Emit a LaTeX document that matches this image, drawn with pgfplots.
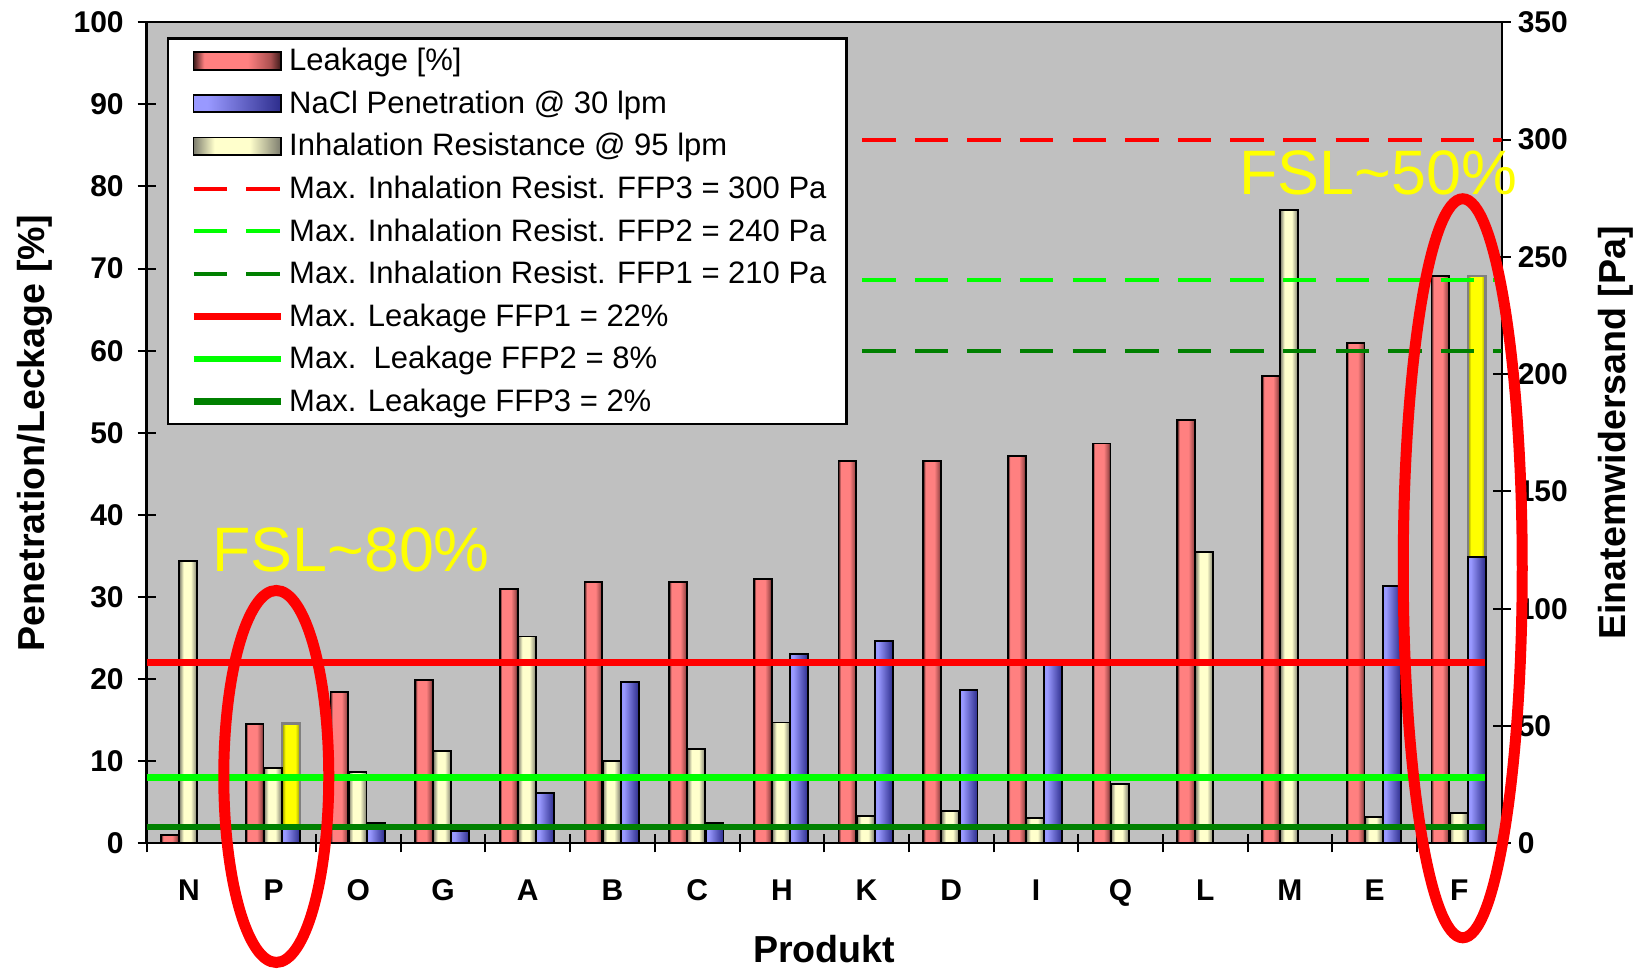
\documentclass[border=0pt]{standalone}
\usepackage{pgfplots}
\pgfplotsset{compat=1.18}
\usepackage{fontspec}
\setmainfont{Liberation Sans}

\definecolor{bggray}{RGB}{192,192,192}
\definecolor{dkgreenline}{RGB}{0,128,0}
\definecolor{ltgreenline}{RGB}{0,255,0}
\definecolor{redline}{RGB}{255,0,0}
\definecolor{salmonc}{RGB}{255,128,128}
\definecolor{salmondk}{RGB}{60,25,25}
\definecolor{salmonmid}{RGB}{170,80,80}
\definecolor{periwc}{RGB}{153,153,255}
\definecolor{bluedk}{RGB}{45,45,140}
\definecolor{creamc}{RGB}{255,255,204}
\definecolor{creamdk}{RGB}{125,125,110}
\definecolor{yelc}{RGB}{255,255,0}
\definecolor{yeldk}{RGB}{150,150,0}
\definecolor{yelborder}{RGB}{128,128,128}

\pgfdeclarehorizontalshading{redbarsh}{100bp}{color(0bp)=(salmondk); color(25bp)=(salmondk); color(31bp)=(salmonc); color(56bp)=(salmonc); color(69bp)=(salmonmid); color(75bp)=(salmondk); color(100bp)=(salmondk)}
\pgfdeclarehorizontalshading{bluebarsh}{100bp}{color(0bp)=(periwc); color(25bp)=(periwc); color(33bp)=(periwc); color(75bp)=(bluedk); color(100bp)=(bluedk)}
\pgfdeclarehorizontalshading{creambarsh}{100bp}{color(0bp)=(creamdk); color(25bp)=(creamdk); color(37bp)=(creamc); color(57bp)=(creamc); color(75bp)=(creamdk); color(100bp)=(creamdk)}
\pgfdeclarehorizontalshading{yelbarsh}{100bp}{color(0bp)=(yeldk); color(25bp)=(yeldk); color(34bp)=(yelc); color(62bp)=(yelc); color(75bp)=(yeldk); color(100bp)=(yeldk)}

\pgfplotsset{
  leakbar/.style={draw=black, line width=0.9pt, shade, shading=redbarsh},
  naclbar/.style={draw=black, line width=0.9pt, shade, shading=bluebarsh},
  inhbar/.style={draw=black, line width=0.9pt, shade, shading=creambarsh},
  yelbar/.style={draw=yelborder, line width=1.3pt, shade, shading=yelbarsh},
  dashline/.style={line width=2pt, dash pattern=on 16.7pt off 9.6pt},
  solidline/.style={line width=3.3pt},
  barlegend/.style={legend image code/.code={\path (0pt,0pt); \draw[##1] (3.5pt,-4.35pt) rectangle (47.2pt,4.35pt);}},
  linelegend/.style={legend image code/.code={\path (0pt,0pt); \draw[##1] (3.5pt,0pt) -- (47.2pt,0pt);}},
  commonaxis/.style={
    at={(0,0)}, anchor=south west,
    scale only axis, width=677.5pt, height=410.5pt,
    xmin=-0.5, xmax=15.5,
    tick align=center,
    major tick length=9pt, minor tick length=9pt,
    tick style={line width=1pt, black},
    axis line style={line width=1.2pt},
    tick label style={font=\bfseries\fontsize{15}{15}\selectfont},
    label style={font=\bfseries\fontsize{18.8}{18.8}\selectfont},
  },
}

% one bar per \addplot so that each bar gets its own shading
\newcommand\LeakBar[2]{\addplot[ybar, bar width=0.21, bar shift=-0.225, leakbar] coordinates {(#1,#2)};}
\newcommand\NaclBar[2]{\addplot[ybar, bar width=0.21, bar shift=0.205, naclbar] coordinates {(#1,#2)};}
\newcommand\YelBar[2]{\addplot[ybar, bar width=0.21, bar shift=0.205, yelbar] coordinates {(#1,#2)};}
\newcommand\InhBar[2]{\addplot[ybar, bar width=0.21, bar shift=-0.01, inhbar] coordinates {(#1,#2)};}

\begin{document}
\begin{tikzpicture}
% ---------- left axis: leakage and NaCl penetration ----------
\begin{axis}[commonaxis,
  ymin=0, ymax=100,
  axis background/.style={fill=bggray},
  ytick={0,10,...,100},
  yticklabels={0,10,20,30,40,50,60,70,80,90,100},
  ytick pos=left,
  yticklabel style={xshift=-3.5pt},
  xtick={0,...,15},
  xticklabels={N,P,O,G,A,B,C,H,K,D,I,Q,L,M,E,F},
  xtick pos=left,
  xticklabel style={yshift=-10pt},
  major x tick style={draw=none},
  minor xtick={-0.5,0.5,...,15.5},
  xlabel={Produkt},
  ylabel={Penetration/Leckage [\%]},
  xlabel style={at={(axis description cs:0.5,-0.1458)}, anchor=base},
  ylabel style={at={(axis description cs:-0.0754,0.5)}, anchor=base},
]
% Leakage [%]
\LeakBar{0}{1.0}  \LeakBar{1}{14.5} \LeakBar{2}{18.4} \LeakBar{3}{19.9}
\LeakBar{4}{31.0} \LeakBar{5}{31.8} \LeakBar{6}{31.8} \LeakBar{7}{32.2}
\LeakBar{8}{46.6} \LeakBar{9}{46.6} \LeakBar{10}{47.2} \LeakBar{11}{48.7}
\LeakBar{12}{51.6} \LeakBar{13}{56.9} \LeakBar{14}{60.9} \LeakBar{15}{69.1}
% highlighted FSL ranges
\YelBar{1}{14.6} \YelBar{15}{69.1}
% NaCl penetration
\NaclBar{1}{1.8} \NaclBar{2}{2.5} \NaclBar{3}{1.5} \NaclBar{4}{6.1}
\NaclBar{5}{19.6} \NaclBar{6}{2.5} \NaclBar{7}{23.1} \NaclBar{8}{24.6}
\NaclBar{9}{18.7} \NaclBar{10}{22.3} \NaclBar{14}{31.3} \NaclBar{15}{34.9}
\end{axis}
% ---------- right axis: inhalation resistance ----------
\begin{axis}[commonaxis,
  ymin=0, ymax=350,
  axis y line*=right, axis x line=none,
  ytick={0,50,...,350},
  yticklabels={0,50,100,150,200,250,300,350},
  ylabel={Einatemwidersand [Pa]},
  ylabel style={at={(axis description cs:1.091,0.5)}, anchor=base},
]
\InhBar{0}{120.4} \InhBar{1}{32.2} \InhBar{2}{30.5} \InhBar{3}{39.2}
\InhBar{4}{88.2} \InhBar{5}{35.0} \InhBar{6}{40.3} \InhBar{7}{51.5}
\InhBar{8}{11.5} \InhBar{9}{13.7} \InhBar{10}{10.9} \InhBar{11}{25.2}
\InhBar{12}{124.3} \InhBar{13}{270.1} \InhBar{14}{11.2} \InhBar{15}{12.9}
\addplot[redline, dashline] coordinates {(2.98,300) (15.5,300)};
\addplot[ltgreenline, dashline] coordinates {(2.98,240) (15.5,240)};
\addplot[dkgreenline, dashline] coordinates {(2.98,210) (15.5,210)};
\end{axis}
% ---------- overlay: leakage limits, legend, annotations ----------
\begin{axis}[commonaxis,
  ymin=0, ymax=100, hide axis, clip=false,
  legend cell align=left,
  legend style={at={(axis description cs:0.015,0.9817)}, anchor=north west,
    draw=black, line width=1.2pt, fill=white,
    font=\fontsize{15.5}{15.5}\selectfont,
    inner xsep=7.5pt, inner ysep=2.9pt, row sep=4.55pt,
    nodes={inner xsep=2.5pt, inner ysep=2pt}},
]
\addlegendimage{leakbar, barlegend}
\addlegendentry{Leakage [\%]}
\addlegendimage{naclbar, barlegend}
\addlegendentry{NaCl Penetration @ 30 lpm}
\addlegendimage{inhbar, barlegend}
\addlegendentry{Inhalation Resistance @ 95 lpm}
\addlegendimage{redline, dashline, linelegend}
\addlegendentry{Max. Inhalation Resist. FFP3 = 300 Pa}
\addlegendimage{ltgreenline, dashline, linelegend}
\addlegendentry{Max. Inhalation Resist. FFP2 = 240 Pa}
\addlegendimage{dkgreenline, dashline, linelegend}
\addlegendentry{Max. Inhalation Resist. FFP1 = 210 Pa}
\addplot[redline, solidline, linelegend] coordinates {(-0.5,22) (15.3,22)};
\addlegendentry{Max. Leakage FFP1 = 22\%}
\addplot[ltgreenline, solidline, linelegend] coordinates {(-0.5,8) (15.3,8)};
\addlegendentry{Max.\ \ Leakage FFP2 = 8\%}
\addplot[dkgreenline, solidline, linelegend] coordinates {(-0.5,2) (15.3,2)};
\addlegendentry{Max. Leakage FFP3 = 2\%}
\draw[redline, line width=5.5pt] (axis cs:1.03,8.14) ellipse [x radius=26.25pt, y radius=93pt];
\draw[redline, line width=5.5pt] (axis cs:15.04,33.5) ellipse [x radius=29.75pt, y radius=184.75pt];
\node[anchor=base west, inner sep=0pt, text=yelc, font=\fontsize{31.4}{31.4}\selectfont] at (axis cs:0.27,33.1) {FSL\textasciitilde80\%};
\node[anchor=base west, inner sep=0pt, text=yelc, font=\fontsize{31.4}{31.4}\selectfont] at (axis cs:12.40,79.05) {FSL\textasciitilde50\%};
\end{axis}
\pgfresetboundingbox
\path[use as bounding box] (-73.35pt,-62.85pt) rectangle (749.65pt,421.65pt);
\end{tikzpicture}
\end{document}
